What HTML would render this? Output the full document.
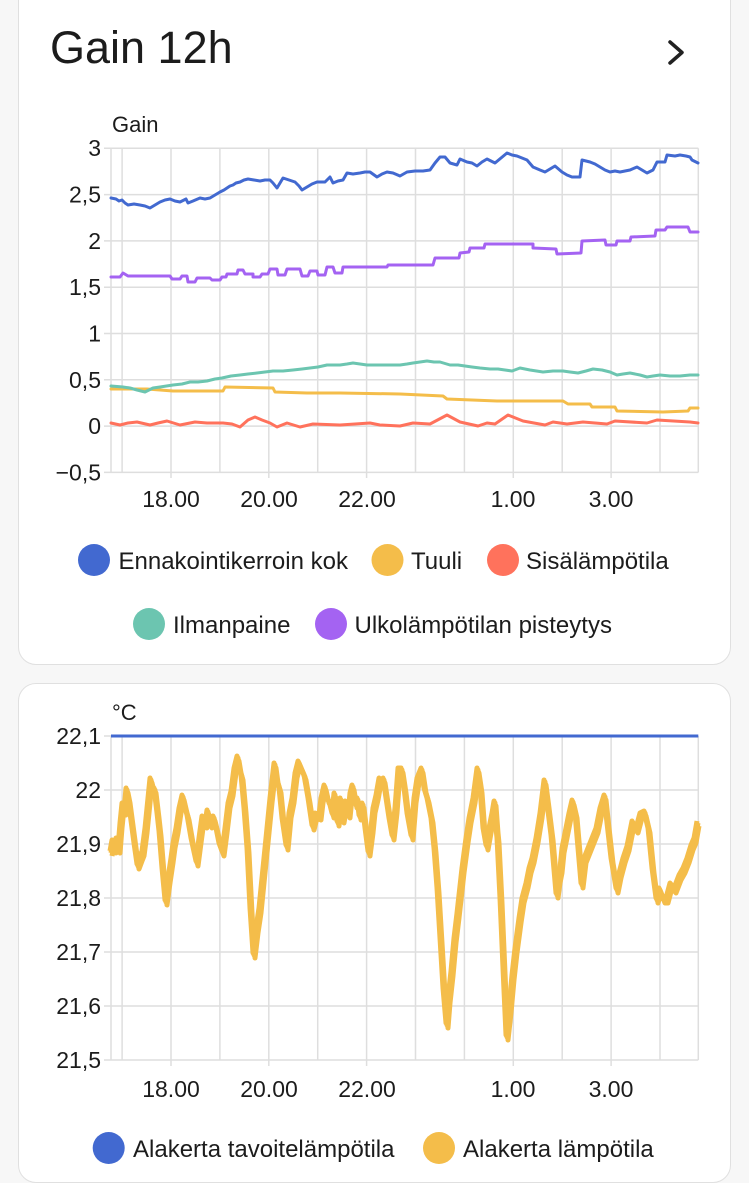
<!DOCTYPE html>
<html>
<head>
<meta charset="utf-8">
<style>
  html, body { margin:0; padding:0; }
  body { width:749px; height:1180px; overflow:hidden; background:#f7f7f7; position:relative;
         font-family:"Liberation Sans", sans-serif; }
  .card { position:absolute; left:18px; width:713px; background:#fff; border:1.5px solid #e0e0e0; border-radius:18px; box-sizing:border-box; }
  svg { position:absolute; left:0; top:0; }
  text { font-family:"Liberation Sans", sans-serif; fill:#1c1c1c; }
</style>
</head>
<body>
<div class="card" style="top:-30px;height:695px;"></div>
<div class="card" style="top:683px;height:500px;"></div>

<svg width="749" height="1180" viewBox="0 0 749 1180" xmlns="http://www.w3.org/2000/svg">
  <defs>
    <polyline id="y2" points="111,853 113,842 115,850 117,840 119,850 121,825 123,805 125,812 127,790 129,800 131,815 135,845 138,866 141,858 143,853 146,830 149,800 151,780 153,788 155,790 158,815 160,833 163,870 166,902 169,880 172,860 174,845 177,830 180,810 183,797 186,810 188,817 192,840 197,863 200,840 203,818 206,825 208,812 211,825 214,818 217,830 220,845 223,853 226,830 229,805 232,793 235,770 238,758 240,770 242,777 245,810 248,850 251,910 254,955 257,930 260,910 264,870 268,830 271,800 275,765 277,780 280,790 283,820 287,847 290,815 293,800 296,775 299,763 302,770 305,777 309,800 313,827 316,815 320,817 322,800 325,787 328,800 330,803 333,815 335,795 338,823 341,800 343,820 346,803 349,815 351,795 353,787 356,805 358,800 360,817 363,805 366,830 369,853 372,830 374,810 377,797 380,780 382,785 384,780 387,800 390,820 393,837 396,810 399,770 402,770 405,790 408,815 412,837 415,800 418,780 422,770 425,790 428,800 432,820 435,850 438,890 441,940 444,990 447,1025 449,1000 452,973 455,940 458,915 460,897 463,870 467,840 470,820 474,800 478,770 481,790 484,830 487,847 490,830 493,815 495,803 497,830 498,840 501,900 504,970 507,1037 510,1010 513,977 516,950 520,920 523,900 527,885 530,870 533,860 537,840 541,815 545,782 548,805 552,837 554,860 557,895 559,880 561,870 563,850 566,835 570,815 573,802 576,815 579,850 582,885 585,860 589,850 593,840 597,830 601,810 605,797 608,825 612,860 617,890 620,875 624,860 628,848 633,823 637,830 641,815 645,813 649,830 653,870 657,900 660,890 664,900 667,900 671,885 675,890 680,877 684,870 688,860 692,847 695,840 698,823"/>
  </defs>
  <!-- Title -->
  <text x="50" y="63" font-size="45">Gain 12h</text>
  <polyline points="670,42 682,52.5 670,63" fill="none" stroke="#212121" stroke-width="3.5" stroke-linecap="round" stroke-linejoin="round"/>

  <!-- ===== Chart 1 ===== -->
  <text x="112" y="132" font-size="22">Gain</text>
  <g stroke="#dedede" stroke-width="1.5" fill="none">
    <line x1="104" y1="148.3" x2="698.3" y2="148.3"/>
    <line x1="104" y1="194.6" x2="698.3" y2="194.6"/>
    <line x1="104" y1="240.9" x2="698.3" y2="240.9"/>
    <line x1="104" y1="287.2" x2="698.3" y2="287.2"/>
    <line x1="104" y1="333.5" x2="698.3" y2="333.5"/>
    <line x1="104" y1="379.8" x2="698.3" y2="379.8"/>
    <line x1="104" y1="426.1" x2="698.3" y2="426.1"/>
    <line x1="104" y1="472.4" x2="698.3" y2="472.4"/>
    <line x1="111" y1="148.3" x2="111" y2="472.4"/>
    <line x1="122.1" y1="148.3" x2="122.1" y2="472.4"/>
    <line x1="171" y1="148.3" x2="171" y2="478"/>
    <line x1="219.9" y1="148.3" x2="219.9" y2="472.4"/>
    <line x1="268.8" y1="148.3" x2="268.8" y2="478"/>
    <line x1="317.7" y1="148.3" x2="317.7" y2="472.4"/>
    <line x1="366.6" y1="148.3" x2="366.6" y2="478"/>
    <line x1="415.5" y1="148.3" x2="415.5" y2="472.4"/>
    <line x1="464.4" y1="148.3" x2="464.4" y2="472.4"/>
    <line x1="513.3" y1="148.3" x2="513.3" y2="478"/>
    <line x1="562.2" y1="148.3" x2="562.2" y2="472.4"/>
    <line x1="611.1" y1="148.3" x2="611.1" y2="478"/>
    <line x1="660" y1="148.3" x2="660" y2="472.4"/>
    <line x1="698.3" y1="148.3" x2="698.3" y2="472.4"/>
  </g>
  <g font-size="23" text-anchor="end">
    <text x="101" y="156">3</text>
    <text x="101" y="202.5">2,5</text>
    <text x="101" y="249">2</text>
    <text x="101" y="295">1,5</text>
    <text x="101" y="341.5">1</text>
    <text x="101" y="388">0,5</text>
    <text x="101" y="434">0</text>
    <text x="101" y="480.5">−0,5</text>
  </g>
  <g font-size="23" text-anchor="middle">
    <text x="171" y="507">18.00</text>
    <text x="269" y="507">20.00</text>
    <text x="367" y="507">22.00</text>
    <text x="513" y="507">1.00</text>
    <text x="611" y="507">3.00</text>
  </g>

  <g fill="none" stroke-width="3" stroke-linejoin="round" stroke-linecap="round">
    <polyline stroke="#ff725c" points="111,423 120,425 128,423 137,422 150,425 158,423 167,421 180,425 195,422 207,423 223,423 232,424 240,427 248,420 255,417 262,420 270,423 277,427 287,423 300,427 313,424 340,425 370,423 380,425 400,426 413,423 430,424 447,415 460,422 478,426 487,423 495,424 508,415 523,421 545,425 553,422 567,424 583,422 607,424 615,421 647,423 657,420 690,422 698,423"/>
    <polyline stroke="#f4bd4a" points="111,389 147,389 173,391 200,391 223,391 225,387 273,388 275,392 307,393 340,393 400,394 443,396 447,399 497,401 563,401 568,404 590,404 592,407 615,407 617,411 663,412 688,411 690,408 698,408"/>
    <polyline stroke="#6cc5b0" points="111,386 123,387 130,388 137,390 145,392 149,390 153,388 160,387 173,385 182,384 190,382 198,382 207,381 215,379 222,378 231,376 240,375 248,374 257,373 265,372 273,371 283,371 293,370 302,369 310,368 318,367 327,365 334,365 340,365 347,364 353,363 360,364 367,365 377,365 387,365 400,365 407,364 413,363 420,362 427,361 434,362 440,362 450,365 458,365 465,366 472,367 480,368 490,369 498,369 505,370 512,371 520,368 530,370 543,372 553,371 563,371 570,372 578,373 586,371 593,369 602,370 610,372 617,375 623,374 630,373 640,375 647,377 653,376 660,375 670,376 680,376 690,375 698,375"/>
    <polyline stroke="#a463f2" points="111,277 120,277 123,273 128,276 170,276 172,279 180,279 182,276 187,276 188,282 195,282 197,278 210,278 212,280 220,280 222,277 226,277 227,274 237,274 238,270 243,270 245,274 253,274 253,277 260,277 262,274 268,274 270,269 277,269 278,275 285,275 287,269 300,269 302,276 308,276 310,271 317,271 318,275 325,275 327,267 333,267 335,273 342,273 343,267 387,267 388,265 433,265 435,258 459,258 460,253 469,252 470,248 484,248 485,244 533,244 533,248 556,249 557,254 581,253 582,241 605,240 606,245 616,245 617,241 630,241 631,237 655,236 656,230 665,230 667,227 688,227 690,232 698,232"/>
    <polyline stroke="#4269d0" points="111,198 116,199 119,201 122,200 125,203 128,205 134,204 140,205 145,206 150,208 155,205 160,202 165,200 170,199 175,201 180,202 186,199 188,203 193,201 200,198 205,199 210,198 215,195 220,192 224,190 227,188 230,186 233,185 236,183 240,182 244,180 248,179 254,180 260,181 265,180 270,180 273,183 277,188 280,183 283,178 289,180 295,182 299,186 302,190 307,187 312,184 317,182 325,182 330,177 333,183 338,181 343,180 347,173 353,174 360,173 365,172 370,172 377,177 382,174 387,172 393,173 400,176 407,172 415,171 423,171 430,170 435,163 440,157 445,157 450,163 457,165 460,159 467,162 472,163 477,166 482,162 487,159 495,163 501,158 507,153 512,155 517,156 522,158 527,160 533,167 540,170 545,172 550,169 555,166 562,172 567,175 572,177 580,177 582,160 590,162 595,164 600,167 605,170 610,172 615,171 620,172 625,171 630,170 637,167 642,170 647,173 653,170 657,162 665,162 667,155 675,156 680,155 686,156 690,157 692,160 698,163"/>
  </g>

  <!-- Legend 1 -->
  <circle cx="94" cy="560" r="16" fill="#4269d0"/>
  <text x="118.5" y="569" font-size="24">Ennakointikerroin kok</text>
  <circle cx="387.5" cy="560" r="16" fill="#f4bd4a"/>
  <text x="411" y="569" font-size="24">Tuuli</text>
  <circle cx="503" cy="560" r="16" fill="#ff725c"/>
  <text x="526" y="569" font-size="24">Sisälämpötila</text>
  <circle cx="149" cy="624" r="16" fill="#6cc5b0"/>
  <text x="173" y="633" font-size="24">Ilmanpaine</text>
  <circle cx="331" cy="624" r="16" fill="#a463f2"/>
  <text x="354.5" y="633" font-size="24">Ulkolämpötilan pisteytys</text>

  <!-- ===== Chart 2 ===== -->
  <text x="112" y="720" font-size="22">°C</text>
  <g stroke="#dedede" stroke-width="1.5" fill="none">
    <line x1="104" y1="736" x2="698.3" y2="736"/>
    <line x1="104" y1="790" x2="698.3" y2="790"/>
    <line x1="104" y1="844" x2="698.3" y2="844"/>
    <line x1="104" y1="898" x2="698.3" y2="898"/>
    <line x1="104" y1="952" x2="698.3" y2="952"/>
    <line x1="104" y1="1006" x2="698.3" y2="1006"/>
    <line x1="104" y1="1060" x2="698.3" y2="1060"/>
    <line x1="111" y1="736" x2="111" y2="1060"/>
    <line x1="122.1" y1="736" x2="122.1" y2="1060"/>
    <line x1="171" y1="736" x2="171" y2="1066"/>
    <line x1="219.9" y1="736" x2="219.9" y2="1060"/>
    <line x1="268.8" y1="736" x2="268.8" y2="1066"/>
    <line x1="317.7" y1="736" x2="317.7" y2="1060"/>
    <line x1="366.6" y1="736" x2="366.6" y2="1066"/>
    <line x1="415.5" y1="736" x2="415.5" y2="1060"/>
    <line x1="464.4" y1="736" x2="464.4" y2="1060"/>
    <line x1="513.3" y1="736" x2="513.3" y2="1066"/>
    <line x1="562.2" y1="736" x2="562.2" y2="1060"/>
    <line x1="611.1" y1="736" x2="611.1" y2="1066"/>
    <line x1="660" y1="736" x2="660" y2="1060"/>
    <line x1="698.3" y1="736" x2="698.3" y2="1060"/>
  </g>
  <g font-size="23" text-anchor="end">
    <text x="101" y="744">22,1</text>
    <text x="101" y="798">22</text>
    <text x="101" y="852">21,9</text>
    <text x="101" y="906">21,8</text>
    <text x="101" y="960">21,7</text>
    <text x="101" y="1014">21,6</text>
    <text x="101" y="1068">21,5</text>
  </g>
  <g font-size="23" text-anchor="middle">
    <text x="171" y="1097">18.00</text>
    <text x="269" y="1097">20.00</text>
    <text x="367" y="1097">22.00</text>
    <text x="513" y="1097">1.00</text>
    <text x="611" y="1097">3.00</text>
  </g>

  <line x1="111" y1="736" x2="698.3" y2="736" stroke="#4269d0" stroke-width="3"/>
  <g fill="none" stroke="#f4bd4a" stroke-width="5" stroke-linejoin="round">
    <use href="#y2"/>
    <use href="#y2" transform="translate(1,3)"/>
    <use href="#y2" transform="translate(-1,-2)"/>
  </g>

  <!-- Legend 2 -->
  <circle cx="108.7" cy="1148" r="16" fill="#4269d0"/>
  <text x="133" y="1157" font-size="24">Alakerta tavoitelämpötila</text>
  <circle cx="439" cy="1148" r="16" fill="#f4bd4a"/>
  <text x="463" y="1157" font-size="24">Alakerta lämpötila</text>
</svg>
</body>
</html>
